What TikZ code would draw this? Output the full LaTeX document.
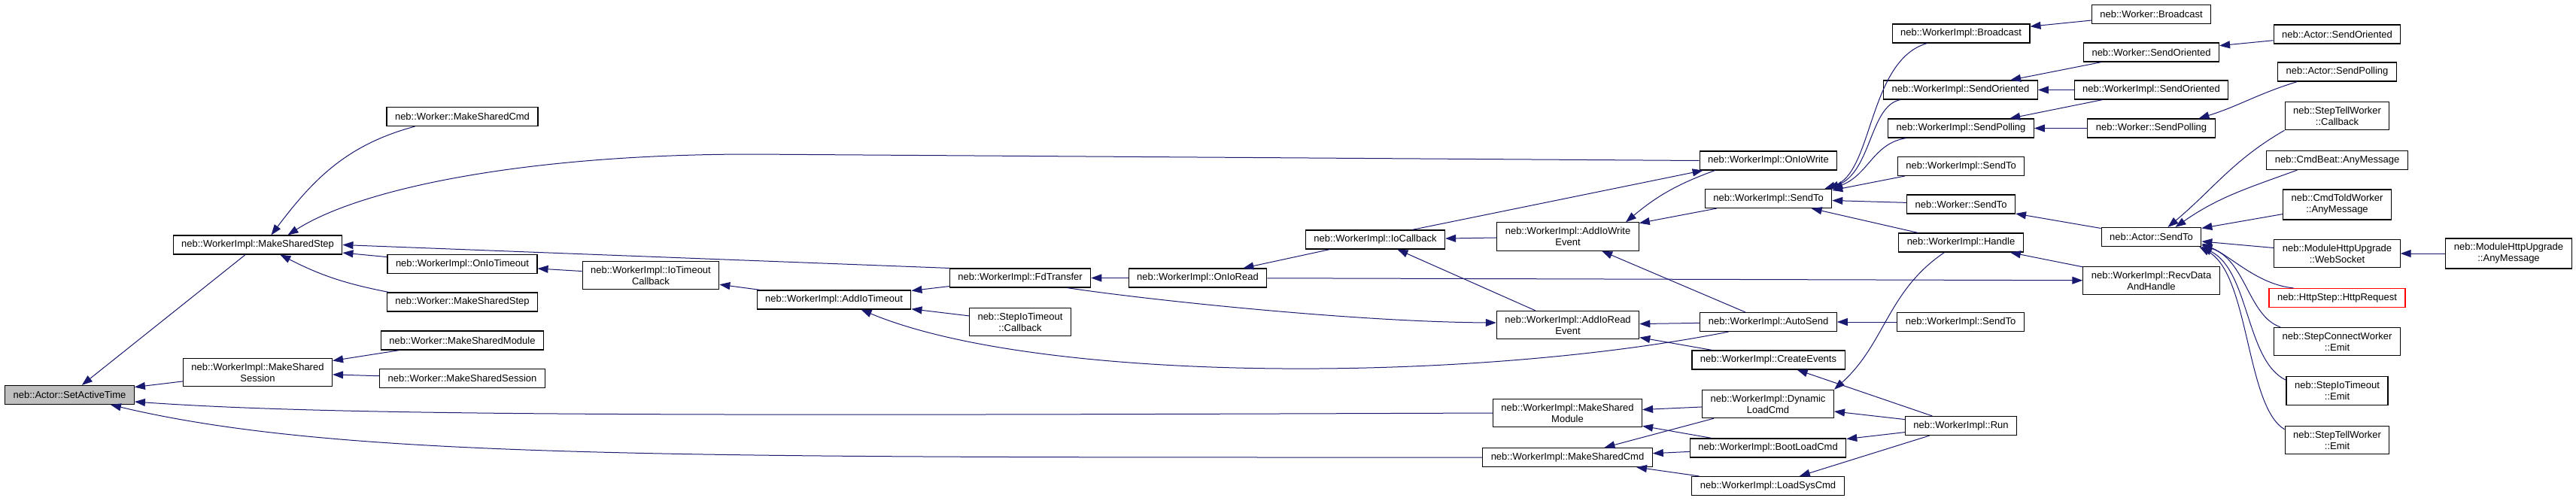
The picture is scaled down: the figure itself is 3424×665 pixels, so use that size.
\documentclass[tikz,border=0pt]{standalone}
\usepackage{fontspec}
\setmainfont{Liberation Sans}
\usetikzlibrary{arrows.meta}
\definecolor{edgeblue}{HTML}{191970}

\begin{document}
\begin{tikzpicture}[x=1pt, y=-1pt,
  fnbox/.style={draw=black, line width=1.1pt, fill=white, inner xsep=11pt, inner ysep=6.4pt,
    minimum height=25pt, align=center, font=\fontsize{13}{15}\selectfont},
  curbox/.style={fnbox, fill=black!25},
  extbox/.style={fnbox, draw=red},
  callarrow/.style={draw=edgeblue, line width=1pt, -{Triangle[length=14pt,width=10pt]}}]
  \useasboundingbox (0,0) rectangle (3424,665);

  % Place the function boxes, column by column
  \node (setactive) at (92.5,525) [curbox] {neb::Actor::SetActiveTime};

  \node (implstep) at (342.5,325.5) [fnbox] {neb::WorkerImpl::MakeSharedStep};
  \node (implsession) at (342.5,495) [fnbox] {neb::WorkerImpl::MakeShared\\Session};

  \node (wcmd) at (614.5,155) [fnbox] {neb::Worker::MakeSharedCmd};
  \node (oniotimeout) at (614.5,351) [fnbox] {neb::WorkerImpl::OnIoTimeout};
  \node (wstep) at (614.5,401.5) [fnbox] {neb::Worker::MakeSharedStep};
  \node (wmodule) at (614.5,452.5) [fnbox] {neb::Worker::MakeSharedModule};
  \node (wsession) at (614.5,503) [fnbox] {neb::Worker::MakeSharedSession};

  \node (iotimeoutcb) at (865,366) [fnbox] {neb::WorkerImpl::IoTimeout\\Callback};
  \node (addiotimeout) at (1108.5,398.5) [fnbox] {neb::WorkerImpl::AddIoTimeout};
  \node (fdtransfer) at (1356,369.5) [fnbox] {neb::WorkerImpl::FdTransfer};
  \node (stepiocb) at (1356,428) [fnbox] {neb::StepIoTimeout\\::Callback};
  \node (onioread) at (1592,369.5) [fnbox] {neb::WorkerImpl::OnIoRead};
  \node (iocallback) at (1828,318.5) [fnbox] {neb::WorkerImpl::IoCallback};

  \node (addwrite) at (2084,314.5) [fnbox] {neb::WorkerImpl::AddIoWrite\\Event};
  \node (addread) at (2084,432) [fnbox] {neb::WorkerImpl::AddIoRead\\Event};
  \node (implmodule) at (2083.5,549) [fnbox] {neb::WorkerImpl::MakeShared\\Module};
  \node (implcmd) at (2083.5,608) [fnbox] {neb::WorkerImpl::MakeSharedCmd};

  \node (oniowrite) at (2350.5,213.5) [fnbox] {neb::WorkerImpl::OnIoWrite};
  \node (implsendto) at (2350.5,264) [fnbox] {neb::WorkerImpl::SendTo};
  \node (autosend) at (2350.5,428) [fnbox] {neb::WorkerImpl::AutoSend};
  \node (createevents) at (2350.5,478.5) [fnbox] {neb::WorkerImpl::CreateEvents};
  \node (dynload) at (2350,537) [fnbox] {neb::WorkerImpl::Dynamic\\LoadCmd};
  \node (bootload) at (2350,595.5) [fnbox] {neb::WorkerImpl::BootLoadCmd};
  \node (loadsys) at (2350,646) [fnbox] {neb::WorkerImpl::LoadSysCmd};

  \node (implbcast) at (2606.5,44.5) [fnbox] {neb::WorkerImpl::Broadcast};
  \node (implsendori) at (2606,119.5) [fnbox] {neb::WorkerImpl::SendOriented};
  \node (implsendpoll) at (2606.5,170.5) [fnbox] {neb::WorkerImpl::SendPolling};
  \node (implsendtob) at (2606.5,221) [fnbox] {neb::WorkerImpl::SendTo};
  \node (wsendto) at (2606.5,271.5) [fnbox] {neb::Worker::SendTo};
  \node (handle) at (2606.5,322.5) [fnbox] {neb::WorkerImpl::Handle};
  \node (implsendtoc) at (2606,428) [fnbox] {neb::WorkerImpl::SendTo};
  \node (run) at (2606.5,566) [fnbox] {neb::WorkerImpl::Run};

  \node (wbcast) at (2859.5,19) [fnbox] {neb::Worker::Broadcast};
  \node (wsendori) at (2859.5,69.5) [fnbox] {neb::Worker::SendOriented};
  \node (implsendorib) at (2859.5,119.5) [fnbox] {neb::WorkerImpl::SendOriented};
  \node (wsendpoll) at (2859.5,170.5) [fnbox] {neb::Worker::SendPolling};
  \node (asendto) at (2859.5,315) [fnbox] {neb::Actor::SendTo};
  \node (recvdata) at (2859.5,373) [fnbox] {neb::WorkerImpl::RecvData\\AndHandle};

  \node (asendori) at (3106.5,45.5) [fnbox] {neb::Actor::SendOriented};
  \node (asendpoll) at (3106.5,95.5) [fnbox] {neb::Actor::SendPolling};
  \node (telltcb) at (3106.5,154) [fnbox] {neb::StepTellWorker\\::Callback};
  \node (cmdbeat) at (3106.5,213) [fnbox] {neb::CmdBeat::AnyMessage};
  \node (cmdtold) at (3106.5,272) [fnbox] {neb::CmdToldWorker\\::AnyMessage};
  \node (httpws) at (3106.5,337) [fnbox] {neb::ModuleHttpUpgrade\\::WebSocket};
  \node (httpreq) at (3106.5,396) [extbox] {neb::HttpStep::HttpRequest};
  \node (connemit) at (3106.5,454) [fnbox] {neb::StepConnectWorker\\::Emit};
  \node (ioemit) at (3106.5,519.5) [fnbox] {neb::StepIoTimeout\\::Emit};
  \node (tellemit) at (3106.5,585) [fnbox] {neb::StepTellWorker\\::Emit};
  \node (httpany) at (3334.5,337) [fnbox] {neb::ModuleHttpUpgrade\\::AnyMessage};

  % Straight calls, caller -> callee
  \foreach \a/\b in {implstep/setactive, implsession/setactive, wmodule/implsession,
    wsession/implsession, oniotimeout/implstep, iotimeoutcb/oniotimeout,
    addiotimeout/iotimeoutcb, fdtransfer/addiotimeout, stepiocb/addiotimeout,
    onioread/fdtransfer, iocallback/onioread, onioread/recvdata, addwrite/iocallback,
    addread/iocallback, implsendto/addwrite, autosend/addwrite, autosend/addread,
    createevents/addread, dynload/implmodule, bootload/implmodule, dynload/implcmd,
    bootload/implcmd, loadsys/implcmd, run/dynload, run/bootload, run/loadsys,
    run/createevents, implsendtoc/autosend, recvdata/handle, handle/implsendto,
    wsendto/implsendto, wbcast/implbcast, wsendori/implsendori, implsendorib/implsendori,
    implsendorib/implsendpoll, wsendpoll/implsendpoll, asendto/wsendto,
    asendori/wsendori, cmdtold/asendto, httpws/asendto, httpany/httpws}
    {\draw[callarrow] (\a) -- (\b);}

  % Calls that need their own end points or a bend
  \draw[callarrow] (fdtransfer.north west) -- (implstep.east);
  \draw[callarrow] (wstep) to[bend left=8] (implstep);
  \draw[callarrow] ([xshift=-63pt]wcmd.south) to[out=195,in=53] ([xshift=18pt]implstep.north);
  \draw[callarrow] (oniowrite.west) -- (1000,205) .. controls (700,205) and (480,250) .. ([xshift=40pt]implstep.north);
  \draw[callarrow] (implmodule.west) .. controls (900,553) and (450,553) .. ([yshift=-9pt]setactive.east);
  \draw[callarrow] (implcmd.west) .. controls (900,608) and (450,610) .. ([xshift=-32pt]setactive.south east);
  \draw[callarrow] ([xshift=-53pt]autosend.south) .. controls (1950,510) and (1380,510) .. ([xshift=36pt]addiotimeout.south);
  \draw[callarrow] ([xshift=-32pt]fdtransfer.south east) .. controls (1520,398) and (1800,428) .. ([yshift=3pt]addread.west);
  \draw[callarrow] ([xshift=49pt]iocallback.north) -- ([xshift=5pt]oniowrite.south west);
  \draw[callarrow] ([xshift=-71pt]oniowrite.south) to[out=200,in=40] ([xshift=77pt]addwrite.north);
  \draw[callarrow] ([xshift=-22pt]handle.south) to[out=-146,in=42] (dynload.north east);

  % Fan-in on WorkerImpl::SendTo
  \draw[callarrow] ([xshift=10pt]implsendtob.south west) -- ([yshift=-2pt]implsendto.north east);
  \draw[callarrow] ([xshift=25pt]implsendpoll.south west) .. controls (2490,190) and (2484,232) .. (implsendto.north east);
  \draw[callarrow] ([xshift=23pt]implsendori.south west) .. controls (2485,140) and (2488,228) .. ([xshift=-5pt]implsendto.north east);
  \draw[callarrow] ([xshift=-45pt]implbcast.south) .. controls (2483,80) and (2490,230) .. ([xshift=-10pt]implsendto.north east);

  % Fan-in on Actor::SendTo
  \draw[callarrow] ([xshift=-53pt]asendpoll.south) to[out=197,in=17] ([xshift=63pt]wsendpoll.north);
  \draw[callarrow] (telltcb.south west) to[out=210,in=40] ([xshift=22pt]asendto.north);
  \draw[callarrow] ([xshift=-53pt]cmdbeat.south) to[out=200,in=35] ([xshift=32pt]asendto.north);
  \draw[callarrow] ([xshift=33pt]httpreq.north west) .. controls (3000,378) and (2965,340) .. ([yshift=4pt]asendto.south east);
  \draw[callarrow] ([xshift=9pt]connemit.north west) .. controls (2988,420) and (2985,345) .. ([yshift=2pt]asendto.south east);
  \draw[callarrow] ([yshift=-5pt]ioemit.north west) .. controls (2985,480) and (2990,360) .. (asendto.south east);
  \draw[callarrow] ([yshift=-5pt]tellemit.north west) .. controls (2985,540) and (2990,365) .. ([xshift=-3pt]asendto.south east);
\end{tikzpicture}
\end{document}
